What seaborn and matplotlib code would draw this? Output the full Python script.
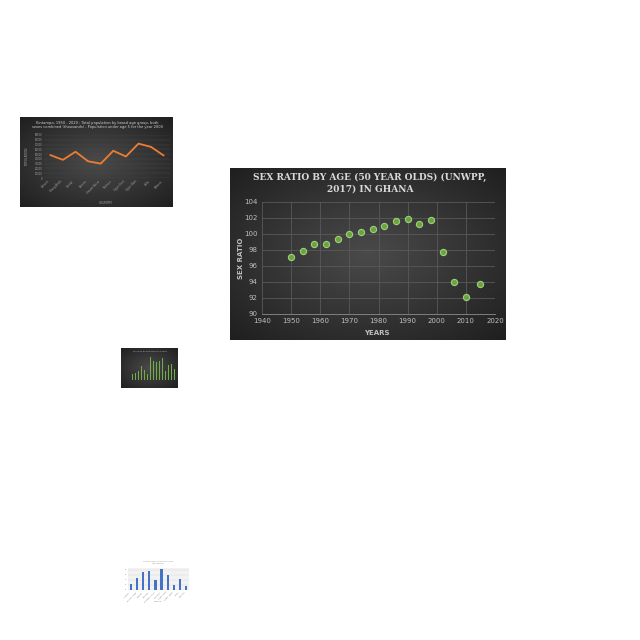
import numpy as np
import pandas as pd
import seaborn as sns
import matplotlib.pyplot as plt
from matplotlib.colors import LinearSegmentedColormap

# main chart: sex ratio of 50 year olds in Ghana
years = [1950, 1954, 1958, 1962, 1966, 1970, 1974, 1978, 1982, 1986, 1990,
         1994, 1998, 2002, 2006, 2010, 2015]
sex_ratio = [97.1, 97.9, 98.7, 98.8, 99.4, 100.0, 100.2, 100.6, 101.0, 101.6,
             101.9, 101.2, 101.7, 97.8, 94.0, 92.1, 93.8]

# thumbnail: population line chart
regions = ["Ashanti", "Brong Ahafo", "Central", "Eastern", "Greater Accra",
           "Northern", "Upper East", "Upper West", "Volta", "Western"]
population = [48000, 38000, 55000, 35000, 30000, 57000, 45000, 72000, 65000, 47000]

# thumbnail: green bars
green_vals = [5, 6, 8, 12, 9, 5, 20, 17, 16, 17, 19, 8, 13, 14, 10]

# thumbnail: blue bars
blue_vals = [2.2, 4.8, 7.0, 7.4, 4.0, 8.2, 5.8, 1.9, 4.2, 1.4]

sns.set_style("white")
plt.rcParams["font.family"] = ["DejaVu Sans"]

fig = plt.figure(figsize=(6.4, 6.4), dpi=100)
fig.patch.set_facecolor("white")

gray_cmap = LinearSegmentedColormap.from_list("bg", ["#4a4a4a", "#1e1e1e"])


def dark_panel(rect):
    # radial gradient backdrop like the office chart style
    bg = fig.add_axes(rect)
    yy, xx = np.mgrid[-1:1:200j, -1:1:200j]
    bg.imshow(np.sqrt(xx ** 2 + yy ** 2), cmap=gray_cmap, aspect="auto",
              extent=(0, 1, 0, 1), vmin=0, vmax=1.45)
    bg.axis("off")
    return bg


def px(l, t, r, b):
    return [l / 640, 1 - b / 640, (r - l) / 640, (b - t) / 640]


# ---- main scatter ----
dark_panel(px(230, 168, 506, 340))
ax = fig.add_axes(px(262, 202, 495, 314))
ax.patch.set_alpha(0)
df = pd.DataFrame({"year": years, "ratio": sex_ratio})
sns.scatterplot(data=df, x="year", y="ratio", ax=ax, s=20, color="#6aa33f",
                edgecolor="#9fcf7e", linewidth=0.8, zorder=3)
ax.set_xlim(1940, 2020)
ax.set_ylim(90, 104)
ax.set_xticks(range(1940, 2021, 10))
ax.set_yticks(range(90, 105, 2))
ax.grid(True, color="#595959", linewidth=0.6)
ax.tick_params(length=0, labelsize=5, colors="#bfbfbf", pad=3)
for s in ax.spines.values():
    s.set_visible(False)
ax.spines["bottom"].set_visible(True)
ax.spines["bottom"].set_color("#8c8c8c")
ax.spines["bottom"].set_linewidth(0.6)
ax.set_xlabel("")
ax.set_ylabel("")
fig.text(370 / 640, 1 - 183 / 640,
         "SEX RATIO BY AGE (50 YEAR OLDS) (UNWPP,\n2017) IN GHANA",
         ha="center", va="center", fontsize=6.5, color="#d9d9d9",
         fontweight="bold", family="DejaVu Serif", linespacing=1.35)
fig.text(377 / 640, 1 - 333 / 640, "YEARS", ha="center", va="center",
         fontsize=5, color="#bfbfbf", fontweight="bold")
fig.text(241 / 640, 1 - 258 / 640, "SEX RATIO", ha="center", va="center",
         fontsize=5, color="#bfbfbf", fontweight="bold", rotation=90)

# ---- thumbnail line chart ----
dark_panel(px(20, 117, 173, 207))
ax1 = fig.add_axes(px(44, 135, 170, 178))
ax1.patch.set_alpha(0)
sns.lineplot(x=list(range(len(regions))), y=population, ax=ax1,
             color="#ed7d31", linewidth=1.3)
ax1.set_ylim(0, 90000)
ax1.set_xlim(-0.5, len(regions) - 0.5)
ax1.set_xticks(range(len(regions)))
ax1.set_xticklabels(regions, rotation=45, ha="right")
ax1.set_yticks(range(0, 90001, 10000))
ax1.tick_params(length=0, labelsize=1.8, colors="#a0a0a0", pad=1)
ax1.grid(True, axis="y", color="#4a4a4a", linewidth=0.3)
for s in ax1.spines.values():
    s.set_visible(False)
fig.text(97 / 640, 1 - 125 / 640,
         "Kintampo, 1950 - 2020 : Total population by broad age group, both\n"
         "sexes combined (thousands) - Population under age 5 for the year 2000",
         ha="center", va="center", fontsize=2.6, color="#d0d0d0")
fig.text(106 / 640, 1 - 203 / 640, "COUNTRY", ha="center", va="center",
         fontsize=2.2, color="#a0a0a0")
fig.text(27 / 640, 1 - 156 / 640, "POPULATION", ha="center", va="center",
         fontsize=2.2, color="#a0a0a0", rotation=90)

# ---- thumbnail green bars ----
dark_panel(px(121, 348, 178, 388))
ax2 = fig.add_axes(px(131, 356, 176, 380))
ax2.patch.set_alpha(0)
sns.barplot(x=list(range(len(green_vals))), y=green_vals, ax=ax2,
            color="#70ad47", width=0.6, linewidth=0, saturation=1)
ax2.set_xticks([])
ax2.set_yticks([])
ax2.set_xlabel("")
ax2.grid(True, axis="y", color="#555555", linewidth=0.3)
for s in ax2.spines.values():
    s.set_visible(False)
fig.text(150 / 640, 1 - 351 / 640, "sex ratio by age group in Ghana",
         ha="center", va="center", fontsize=1.5, color="#b0b0b0")

# ---- thumbnail blue bars ----
ax3 = fig.add_axes(px(128, 568, 189, 590))
ax3.set_facecolor("#f2f2f2")
sns.barplot(x=list(range(len(blue_vals))), y=blue_vals, ax=ax3,
            color="#4472c4", width=0.35, linewidth=0, saturation=1)
ax3.set_xticks(range(len(blue_vals)))
ax3.set_xticklabels(regions, rotation=45, ha="right")
ax3.set_yticks(range(0, 10, 2))
ax3.tick_params(length=0, labelsize=1.5, colors="#808080", pad=1)
ax3.grid(True, axis="y", color="#d9d9d9", linewidth=0.3)
ax3.set_xlabel("")
for s in ax3.spines.values():
    s.set_visible(False)
fig.text(158 / 640, 1 - 562 / 640,
         "Ghana: population by region\n(thousands)",
         ha="center", va="center", fontsize=1.5, color="#909090")
fig.text(158 / 640, 1 - 602 / 640, "REGION", ha="center", va="center",
         fontsize=1.5, color="#909090")

fig.savefig("out.png", dpi=100, facecolor="white")
